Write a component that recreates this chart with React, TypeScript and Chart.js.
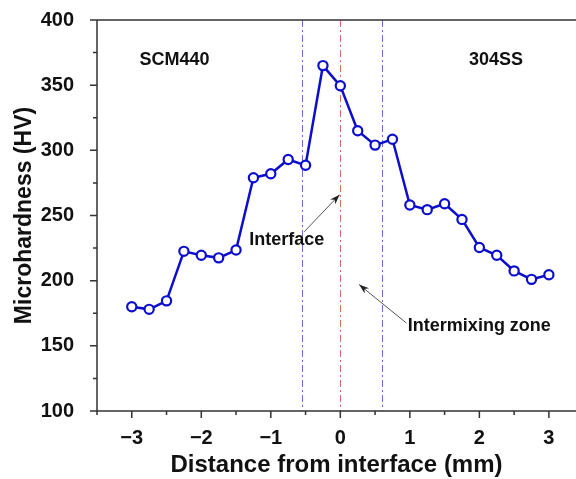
import { useEffect, useRef } from "react";
import { Chart, registerables } from "chart.js";

Chart.register(...registerables);

// ---- data ----
const distances = [
  -3, -2.75, -2.5, -2.25, -2, -1.75, -1.5, -1.25, -1, -0.75, -0.5, -0.25, 0,
  0.25, 0.5, 0.75, 1, 1.25, 1.5, 1.75, 2, 2.25, 2.5, 2.75, 3,
];
const hardness = [
  180, 178, 184.5, 222.5, 219.5, 217.5, 223.5, 279, 282, 293, 288.5, 365, 349.5,
  315, 304, 308.5, 258, 254.5, 259, 247, 225.5, 219.5, 207.5, 201, 204.5,
];
const xTickValues = [-3.5, -3, -2.5, -2, -1.5, -1, -0.5, 0, 0.5, 1, 1.5, 2, 2.5, 3];
const boundaryPositions = [-0.55, 0, 0.6];
const regionNames = ["SCM440", "304SS"];
const annotationTexts = ["Interface", "Intermixing zone"];
const xTitle = "Distance from interface (mm)";
const yTitle = "Microhardness (HV)";

// ---- layout / styles (not data) ----
const FONT = "'Liberation Sans', Arial, sans-serif";
const LINE_BLUE = "#0d0dcc";
const AXIS = "#333333";
const boundaryColors = ["#6c6cd0", "#d86a6a", "#6c6cd0"];
const regionAnchors = [
  { x: -2.385, y: 369 },
  { x: 2.24, y: 369 },
];
const annotationAnchors = [
  { x: -0.77, y: 231, tail: { x: -0.52, y: 237.5 }, tip: { x: -0.01, y: 266 } },
  { x: 2.0, y: 165, tail: { x: 0.95, y: 167.5 }, tip: { x: 0.27, y: 197 } },
];

const decorPlugin = {
  id: "decor",
  beforeDatasetsDraw(chart: any) {
    const { ctx, chartArea: a, scales } = chart;
    const xs = scales.x;
    ctx.save();
    ctx.lineWidth = 1;
    ctx.setLineDash([7, 3, 2, 3]);
    boundaryPositions.forEach((v, i) => {
      const px = Math.round(xs.getPixelForValue(v)) + 0.5;
      ctx.strokeStyle = boundaryColors[i];
      ctx.beginPath();
      ctx.moveTo(px, a.top);
      ctx.lineTo(px, a.bottom);
      ctx.stroke();
    });
    ctx.restore();
  },
  afterDraw(chart: any) {
    const { ctx, chartArea: a, scales } = chart;
    const xs = scales.x;
    const ys = scales.y;
    ctx.save();
    ctx.strokeStyle = AXIS;
    ctx.lineWidth = 1.5;
    ctx.beginPath();
    ctx.moveTo(a.left, a.top);
    ctx.lineTo(a.right, a.top);
    ctx.moveTo(a.left, a.top);
    ctx.lineTo(a.left, a.bottom);
    ctx.lineTo(a.right, a.bottom);
    ctx.stroke();
    ctx.beginPath();
    xTickValues.forEach((v) => {
      const px = xs.getPixelForValue(v);
      const len = Number.isInteger(v) ? 7 : 4;
      ctx.moveTo(px, a.bottom);
      ctx.lineTo(px, a.bottom + len);
    });
    for (let v = ys.min; v <= ys.max + 1e-9; v += 25) {
      const py = ys.getPixelForValue(v);
      const len = v % 50 === 0 ? 7 : 4;
      ctx.moveTo(a.left, py);
      ctx.lineTo(a.left - len, py);
    }
    ctx.stroke();

    ctx.fillStyle = "#111111";
    ctx.textAlign = "center";
    ctx.textBaseline = "middle";
    ctx.font = `bold 18px ${FONT}`;
    regionNames.forEach((t, i) => {
      ctx.fillText(t, xs.getPixelForValue(regionAnchors[i].x), ys.getPixelForValue(regionAnchors[i].y));
    });
    annotationTexts.forEach((t, i) => {
      const an = annotationAnchors[i];
      ctx.fillStyle = "#111111";
      ctx.fillText(t, xs.getPixelForValue(an.x), ys.getPixelForValue(an.y));
      const x0 = xs.getPixelForValue(an.tail.x);
      const y0 = ys.getPixelForValue(an.tail.y);
      const x1 = xs.getPixelForValue(an.tip.x);
      const y1 = ys.getPixelForValue(an.tip.y);
      ctx.strokeStyle = "#555555";
      ctx.lineWidth = 1;
      ctx.beginPath();
      ctx.moveTo(x0, y0);
      ctx.lineTo(x1, y1);
      ctx.stroke();
      const ang = Math.atan2(y1 - y0, x1 - x0);
      const hl = 10;
      const hw = 3.5;
      ctx.fillStyle = "#222222";
      ctx.beginPath();
      ctx.moveTo(x1, y1);
      ctx.lineTo(x1 - hl * Math.cos(ang) + hw * Math.sin(ang), y1 - hl * Math.sin(ang) - hw * Math.cos(ang));
      ctx.lineTo(x1 - hl * 0.7 * Math.cos(ang), y1 - hl * 0.7 * Math.sin(ang));
      ctx.lineTo(x1 - hl * Math.cos(ang) - hw * Math.sin(ang), y1 - hl * Math.sin(ang) + hw * Math.cos(ang));
      ctx.closePath();
      ctx.fill();
    });
    ctx.restore();
  },
};

export default function App() {
  const ref = useRef<HTMLCanvasElement | null>(null);
  useEffect(() => {
    if (!ref.current) return;
    const chart = new Chart(ref.current, {
      type: "line",
      data: {
        datasets: [
          {
            data: distances.map((d, i) => ({ x: d, y: hardness[i] })),
            borderColor: LINE_BLUE,
            borderWidth: 2.5,
            pointRadius: 4.6,
            pointBorderWidth: 2.2,
            pointBackgroundColor: "#ffffff",
            pointBorderColor: LINE_BLUE,
            tension: 0,
          },
        ],
      },
      options: {
        animation: false,
        responsive: true,
        maintainAspectRatio: false,
        layout: { padding: 0, autoPadding: false },
        plugins: { legend: { display: false }, tooltip: { enabled: false } },
        scales: {
          x: {
            type: "linear",
            min: -3.5,
            max: 3.39,
            grid: { display: false },
            border: { display: false },
            afterBuildTicks: (s: any) => {
              s.ticks = xTickValues.map((v) => ({ value: v }));
            },
            afterFit: (s: any) => {
              s.height = 68;
              s.paddingLeft = 0;
              s.paddingRight = 0;
            },
            ticks: {
              autoSkip: false,
              maxRotation: 0,
              padding: 7,
              color: "#111111",
              font: { family: FONT, size: 20, weight: "bold" },
              callback: (v: any) => {
                const n = Number(v);
                if (!Number.isInteger(n)) return "";
                return n < 0 ? "\u2212" + Math.abs(n) : String(n);
              },
            },
            title: {
              display: true,
              text: xTitle,
              color: "#111111",
              font: { family: FONT, size: 24, weight: "bold" },
              padding: { top: 0, bottom: -1 },
            },
          },
          y: {
            min: 100,
            max: 400,
            grid: { display: false },
            border: { display: false },
            afterFit: (s: any) => {
              s.width = 97;
              s.paddingTop = 20;
              s.paddingBottom = 0;
            },
            ticks: {
              stepSize: 50,
              padding: 15,
              color: "#111111",
              font: { family: FONT, size: 20, weight: "bold" },
            },
            title: {
              display: true,
              text: yTitle,
              color: "#111111",
              font: { family: FONT, size: 23, weight: "bold" },
              padding: { top: 11, bottom: 0 },
            },
          },
        },
      },
      plugins: [decorPlugin],
    });
    return () => chart.destroy();
  }, []);
  return (
    <div style={{ position: "fixed", left: 0, top: 0, width: 576, height: 479, background: "#fff" }}>
      <canvas ref={ref} />
    </div>
  );
}
